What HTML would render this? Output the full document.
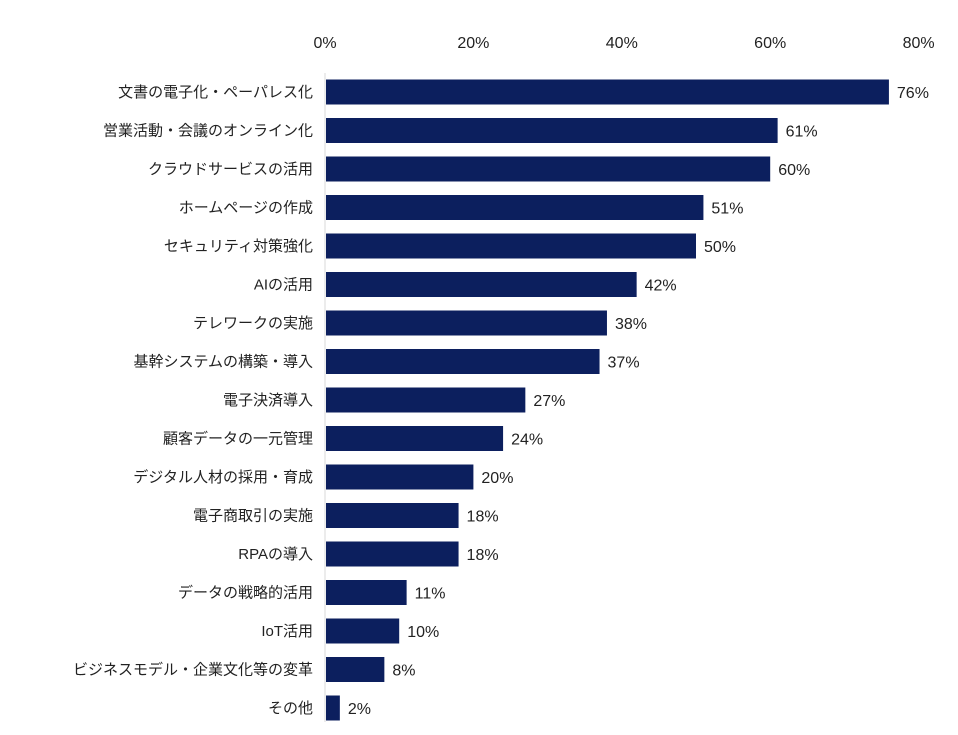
<!DOCTYPE html>
<html><head><meta charset="utf-8">
<style>
body{margin:0;background:#fff;width:958px;height:730px;overflow:hidden}
svg text{font-family:"Liberation Sans","Noto Sans CJK JP",sans-serif;fill:#222}
</style></head>
<body>
<svg id="chart" width="958" height="730" xmlns="http://www.w3.org/2000/svg"></svg>
<script>
const categories=["文書の電子化・ペーパレス化","営業活動・会議のオンライン化","クラウドサービスの活用","ホームページの作成","セキュリティ対策強化","AIの活用","テレワークの実施","基幹システムの構築・導入","電子決済導入","顧客データの一元管理","デジタル人材の採用・育成","電子商取引の実施","RPAの導入","データの戦略的活用","IoT活用","ビジネスモデル・企業文化等の変革","その他"];
const values=[76,61,60,51,50,42,38,37,27,24,20,18,18,11,10,8,2];
const ticks=[0,20,40,60,80];
const svg=document.getElementById('chart');
const NS='http://www.w3.org/2000/svg';
const x0=325,pxPer=7.42;
const x=v=>x0+v*pxPer;
const y=i=>92+i*38.5;
function mk(t,a){const e=document.createElementNS(NS,t);for(const k in a)e.setAttribute(k,a[k]);svg.appendChild(e);return e;}
ticks.forEach(t=>{
  const e=mk('text',{x:x(t),y:48,'text-anchor':'middle','font-size':16});
  e.textContent=t+'%';
  
  
});
const ax=mk('line',{x1:x0,x2:x0,y1:73,y2:722,stroke:'#d9d9d9','stroke-width':1});


categories.forEach((c,i)=>{
  const r=mk('rect',{x:x0+1,y:y(i)-12.5,width:x(values[i])-x0-1,height:25,fill:'#0c1f5e'});
  
  
  const l=mk('text',{x:313,y:y(i)+5,'text-anchor':'end','font-size':15});
  l.textContent=c;
  
  
  const v=mk('text',{x:x(values[i])+8,y:y(i)+6,'font-size':16});
  v.textContent=values[i]+'%';
  
  
});
</script>
</body></html>
